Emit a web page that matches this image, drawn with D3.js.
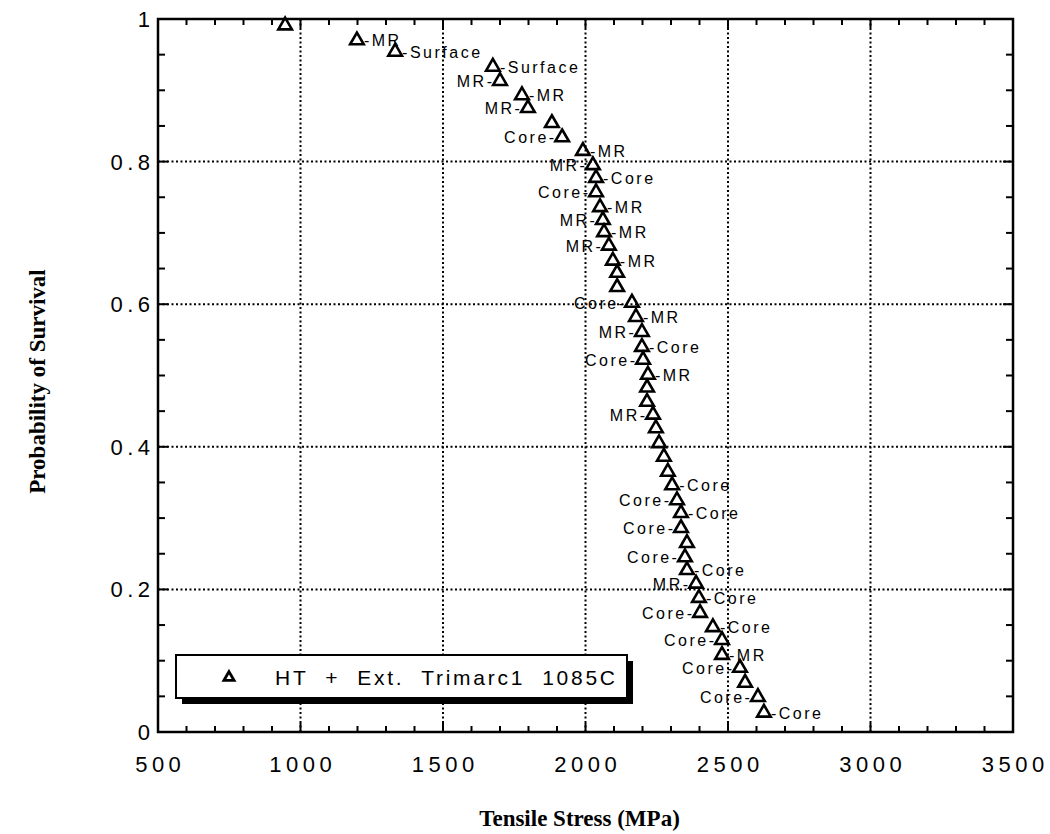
<!DOCTYPE html>
<html><head><meta charset="utf-8">
<script src="https://cdn.jsdelivr.net/npm/d3@7"></script>
<style>
html,body{margin:0;padding:0;background:#fff;}
svg{display:block;}
</style></head>
<body>
<svg id="chart" width="1050" height="834"></svg>
<script>
// ---- data ----
const stress = [946,1198,1332,1675,1700,1777,1798,1882,1918,1991,
  2026,2037,2037,2051,2061,2065,2082,2096,2111,2111,
  2163,2177,2198,2198,2202,2219,2216,2216,2237,2247,
  2258,2275,2289,2304,2321,2335,2335,2356,2349,2356,
  2388,2398,2402,2447,2479,2479,2542,2560,2605,2626];
const survival = [0.991,0.970,0.954,0.933,0.913,0.893,0.875,0.854,0.834,0.815,
  0.795,0.777,0.757,0.736,0.718,0.701,0.682,0.661,0.644,0.624,
  0.602,0.582,0.561,0.540,0.522,0.501,0.483,0.463,0.445,0.426,
  0.405,0.386,0.365,0.346,0.325,0.307,0.286,0.265,0.245,0.227,
  0.208,0.188,0.167,0.147,0.129,0.108,0.090,0.069,0.049,0.027];
const labels = ["","MR","Surface","Surface","MR","MR","MR","","Core","MR",
  "MR","Core","Core","MR","MR","MR","MR","MR","","",
  "Core","MR","MR","Core","Core","MR","","","MR","",
  "","","","Core","Core","Core","Core","","Core","Core",
  "MR","Core","Core","Core","Core","MR","Core","","Core","Core"];
const labelSide = ["","R","R","R","L","R","L","","L","R",
  "L","R","L","R","L","R","L","R","","",
  "L","R","L","R","L","R","","","L","",
  "","","","R","L","R","L","","L","R",
  "L","R","L","R","L","R","L","","L","R"];
const xTicks = [500,1000,1500,2000,2500,3000,3500];
const yTicks = [0,0.2,0.4,0.6,0.8,1];
const xTickLabels = ["500","1000","1500","2000","2500","3000","3500"];
const yTickLabels = ["0","0.2","0.4","0.6","0.8","1"];
const legendLabel = "HT  +  Ext.  Trimarc1  1085C";
const xTitle = "Tensile Stress (MPa)";
const yTitle = "Probability of Survival";

// ---- layout ----
const L = 158, R = 1013, T = 19, B = 732;
const svg = d3.select("#chart");
const x = d3.scaleLinear().domain([500,3500]).range([L,R]);
const y = d3.scaleLinear().domain([0,1]).range([B,T]);
const SANS = "Liberation Sans, Arial, Helvetica, sans-serif";
const SERIF = "Liberation Serif, Times New Roman, serif";

// grid
const g = svg.append("g");
g.selectAll("line.gx").data(xTicks.slice(1,-1)).join("line")
  .attr("x1",d=>x(d)).attr("x2",d=>x(d)).attr("y1",T).attr("y2",B)
  .attr("stroke","#000").attr("stroke-width",2).attr("stroke-dasharray","2,2.5");
g.selectAll("line.gy").data(yTicks.slice(1,-1)).join("line")
  .attr("y1",d=>y(d)).attr("y2",d=>y(d)).attr("x1",L).attr("x2",R)
  .attr("stroke","#000").attr("stroke-width",2).attr("stroke-dasharray","2,2.5");

// minor ticks
const xMinor = d3.range(500,3501,100);
const yMinor = d3.range(0,1.0001,0.05);
const tk = svg.append("g").attr("stroke","#000").attr("stroke-width",2);
xMinor.forEach(v=>{
  const major = Math.abs(v%500)<1e-6;
  const len = major?9:6;
  tk.append("line").attr("x1",x(v)).attr("x2",x(v)).attr("y1",B).attr("y2",B-len);
  tk.append("line").attr("x1",x(v)).attr("x2",x(v)).attr("y1",T).attr("y2",T+len);
});
yMinor.forEach(v=>{
  const major = Math.abs((v*5)-Math.round(v*5))<1e-6;
  const len = major?10:7;
  tk.append("line").attr("y1",y(v)).attr("y2",y(v)).attr("x1",L).attr("x2",L+len);
  tk.append("line").attr("y1",y(v)).attr("y2",y(v)).attr("x1",R).attr("x2",R-len);
});

// frame
svg.append("rect").attr("x",L).attr("y",T).attr("width",R-L).attr("height",B-T)
  .attr("fill","none").attr("stroke","#000").attr("stroke-width",2.5);

// tick labels
const TLS = 4.5;
svg.append("g").selectAll("text").data(xTicks).join("text")
  .attr("x",d=>x(d)+TLS/2).attr("y",B+40)
  .attr("text-anchor","middle")
  .attr("font-family",SANS).attr("font-size",22)
  .attr("letter-spacing",TLS)
  .text((d,i)=>xTickLabels[i]);
svg.append("g").selectAll("text").data(yTicks).join("text")
  .attr("x",L-8+TLS).attr("y",d=>y(d)+8)
  .attr("text-anchor","end")
  .attr("font-family",SANS).attr("font-size",22)
  .attr("letter-spacing",TLS)
  .text((d,i)=>yTickLabels[i]);

// axis titles
svg.append("text").attr("x",(L+R)/2-6).attr("y",826).attr("text-anchor","middle")
  .attr("font-family",SERIF).attr("font-weight","bold")
  .attr("font-size",23).text(xTitle);
svg.append("text").attr("transform",`translate(45,${(T+B)/2+6}) rotate(-90)`)
  .attr("text-anchor","middle")
  .attr("font-family",SERIF).attr("font-weight","bold")
  .attr("font-size",23).text(yTitle);

// points
const data = stress.map((s,i)=>({s, p:survival[i], lab:labels[i], side:labelSide[i]}));
const tri = d3.symbol().type(d3.symbolTriangle).size(80);
svg.append("g").selectAll("path").data(data).join("path")
  .attr("transform",d=>`translate(${x(d.s)},${y(d.p)})`)
  .attr("d",tri).attr("fill","none").attr("stroke","#000").attr("stroke-width",2.6);

// point labels
const PLS = 2.5;
svg.append("g").selectAll("text").data(data.filter(d=>d.lab)).join("text")
  .attr("x",d=>d.side==="R"? x(d.s)+7 : x(d.s)-8+PLS)
  .attr("y",d=>y(d.p)+6)
  .attr("text-anchor",d=>d.side==="R"?"start":"end")
  .attr("font-family",SANS).attr("font-size",16)
  .attr("letter-spacing",PLS)
  .text(d=>d.side==="R" ? "-"+d.lab : d.lab+"-");

// legend
const lg = svg.append("g");
const lx = 176, ly = 655, lw = 451, lh = 43;
lg.append("rect").attr("x",lx+6).attr("y",ly+6).attr("width",lw).attr("height",lh).attr("fill","#000");
lg.append("rect").attr("x",lx).attr("y",ly).attr("width",lw).attr("height",lh)
  .attr("fill","#fff").attr("stroke","#000").attr("stroke-width",2);
lg.append("path").attr("transform",`translate(${lx+53},${ly+lh/2+1})`)
  .attr("d",d3.symbol().type(d3.symbolTriangle).size(45)).attr("fill","none")
  .attr("stroke","#000").attr("stroke-width",2.8);
lg.append("text").attr("x",lx+99).attr("y",ly+lh/2+8)
  .attr("font-family",SANS).attr("font-size",21)
  .attr("xml:space","preserve").style("white-space","pre")
  .attr("textLength",340).attr("lengthAdjust","spacing")
  .text(legendLabel);
</script>
</body></html>
